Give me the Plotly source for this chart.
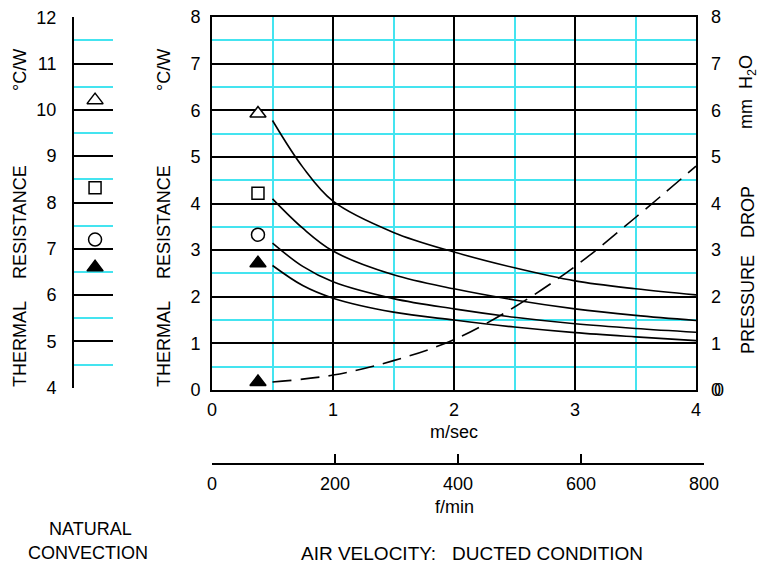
import plotly.graph_objects as go

# ---------------- data ----------------
velocity = [0.5, 0.75, 1.0, 1.5, 2.0, 2.5, 3.0, 3.5, 4.0]          # m/sec
rth_open_triangle = [5.78, 4.78, 4.05, 3.38, 2.96, 2.62, 2.34, 2.17, 2.04]
rth_open_square   = [4.10, 3.47, 2.98, 2.47, 2.17, 1.93, 1.74, 1.60, 1.49]
rth_open_circle   = [3.15, 2.65, 2.32, 1.96, 1.74, 1.56, 1.42, 1.32, 1.24]
rth_filled_tri    = [2.67, 2.24, 1.97, 1.67, 1.50, 1.35, 1.23, 1.14, 1.06]

pressure_velocity = [0.5, 1.0, 1.5, 2.0, 2.5, 3.0, 3.5, 4.0]
pressure_drop     = [0.17, 0.32, 0.63, 1.08, 1.78, 2.65, 3.70, 4.80]  # mm H2O

# legend markers beside curves (main panel)
marker_x = 0.38
marker_main_y = [5.93, 4.22, 3.33, 2.72, 0.17]
# natural convection values (left panel)
natural_y = [10.21, 8.32, 7.20, 6.60]
natural_x = 0.54

main_y_ticks = [0, 1, 2, 3, 4, 5, 6, 7, 8]
left_y_ticks = [4, 5, 6, 7, 8, 9, 10, 11, 12]
vel_ticks = [0, 1, 2, 3, 4]
fmin_ticks = [0, 200, 400, 600, 800]

W, H = 760, 565
FONT = "Liberation Sans"
CYAN = "#44e4f0"
NB = "\u00a0"


def px(x):
    return x / W


def py(y):
    return 1 - y / H


fig = go.Figure()

curve_style = dict(color="black", width=1.6, shape="spline", smoothing=1.0)
for ys in [rth_open_triangle, rth_open_square, rth_open_circle, rth_filled_tri]:
    fig.add_trace(go.Scatter(x=velocity, y=ys, mode="lines", line=curve_style,
                             xaxis="x", yaxis="y", hoverinfo="skip", showlegend=False))

fig.add_trace(go.Scatter(x=pressure_velocity, y=pressure_drop, mode="lines",
                         line=dict(color="black", width=1.6, dash="19px,9px",
                                   shape="spline", smoothing=1.0),
                         xaxis="x", yaxis="y3", hoverinfo="skip", showlegend=False))

fig.add_trace(go.Scatter(
    x=[marker_x] * len(marker_main_y), y=marker_main_y, mode="markers",
    marker=dict(symbol=["triangle-up", "square", "circle", "triangle-up", "triangle-up"],
                size=[14, 12, 13, 14, 14], opacity=1,
                color=["white", "white", "white", "black", "black"],
                line=dict(color="black", width=1.5)),
    xaxis="x", yaxis="y", hoverinfo="skip", showlegend=False))

fig.add_trace(go.Scatter(
    x=[natural_x] * len(natural_y), y=natural_y, mode="markers",
    marker=dict(symbol=["triangle-up", "square", "circle", "triangle-up"],
                size=[14, 12, 13, 14], opacity=1,
                color=["white", "white", "white", "black"],
                line=dict(color="black", width=1.5)),
    xaxis="x2", yaxis="y2", hoverinfo="skip", showlegend=False))

# invisible trace to hold the f/min axis
fig.add_trace(go.Scatter(x=[0, 800], y=[0, 0], mode="markers", marker=dict(opacity=0),
                         xaxis="x3", yaxis="y4", hoverinfo="skip", showlegend=False))

tickfont = dict(family=FONT, size=18, color="black")
grid_common = dict(gridcolor="black", gridwidth=1.5,
                   minor=dict(dtick=0.5, showgrid=True, gridcolor=CYAN, gridwidth=1.5, ticks=""))

fig.update_layout(
    width=W, height=H, autosize=False,
    margin=dict(l=0, r=0, t=0, b=0, autoexpand=False),
    paper_bgcolor="white", plot_bgcolor="white",
    font=dict(family=FONT, size=18, color="black"),
    showlegend=False,
    xaxis=dict(domain=[px(212), px(696)], range=[0, 4], tickvals=vel_ticks,
               showgrid=True, zeroline=False, showline=True, mirror=True,
               linecolor="black", linewidth=2, ticks="", tickfont=tickfont,
               ticklabelstandoff=2, anchor="y", fixedrange=True, automargin=False,
               **grid_common),
    yaxis=dict(domain=[py(390), py(17)], range=[0, 8], tickvals=main_y_ticks,
               showgrid=True, zeroline=False, showline=True, mirror=True,
               linecolor="black", linewidth=2, ticks="", tickfont=tickfont,
               ticklabelstandoff=6, anchor="x", fixedrange=True, automargin=False,
               **grid_common),
    yaxis3=dict(overlaying="y", side="right", range=[0, 8], tickvals=main_y_ticks,
                showgrid=False, zeroline=False, showline=False, ticks="",
                tickfont=tickfont, ticklabelstandoff=14, anchor="x", fixedrange=True,
                automargin=False),
    xaxis2=dict(domain=[px(74), px(113)], range=[0, 1], showgrid=False, zeroline=False,
                showline=False, showticklabels=False, ticks="", anchor="y2",
                fixedrange=True, automargin=False),
    yaxis2=dict(domain=[py(388), py(17)], range=[3.995, 12.005], tickvals=left_y_ticks,
                showgrid=True, zeroline=False, showline=True, mirror=False,
                linecolor="black", linewidth=2, ticks="", tickfont=tickfont,
                ticklabelstandoff=12, anchor="x2", fixedrange=True, automargin=False,
                **grid_common),
    xaxis3=dict(domain=[px(212), px(704)], range=[0, 800], tickvals=fmin_ticks,
                showgrid=False, zeroline=False, showline=True, linecolor="black",
                linewidth=1.5, ticks="inside", ticklen=9, tickwidth=1.5, tickcolor="black",
                tickfont=tickfont, ticklabelstandoff=4, anchor="y4", fixedrange=True,
                automargin=False),
    yaxis4=dict(domain=[py(463), py(463) + 0.02], range=[0, 1], visible=False,
                anchor="x3", fixedrange=True),
)

ann = []


def add_text(text, x, y, angle=0, size=18):
    ann.append(dict(text=text, x=px(x), y=py(y), xref="paper", yref="paper",
                    showarrow=False, textangle=angle,
                    font=dict(family=FONT, size=size, color="black"),
                    xanchor="center", yanchor="middle"))


for cx in (20, 164):
    add_text("THERMAL", cx, 344, -90)
    add_text("RESISTANCE", cx, 222, -90)
    add_text("°C/W", cx, 70, -90)
add_text("PRESSURE", 748, 305, -90)
add_text("DROP", 748, 212, -90)
add_text("mm" + NB + NB + "H<sub>2</sub>O", 748, 92, -90)
add_text("m/sec", 454, 432)
add_text("f/min", 454, 507)
add_text("NATURAL", 90, 529)
add_text("CONVECTION", 88, 553)
add_text("AIR VELOCITY:" + NB + NB + NB + "DUCTED CONDITION", 472, 553, size=19)
add_text("0", 719, 390)

fig.update_layout(annotations=ann)

fig.write_html("out.html",
               config={"displayModeBar": False},
               post_script="document.body.style.margin='0px';"
                           "document.body.style.overflow='hidden';")
